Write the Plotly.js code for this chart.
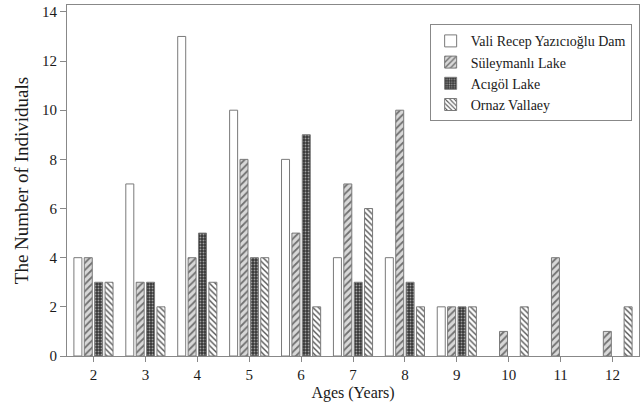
<!DOCTYPE html>
<html>
<head>
<meta charset="utf-8">
<script src="https://cdn.plot.ly/plotly-3.0.1.min.js"></script>
<style>html,body{margin:0;padding:0;background:#fff;}#chart{width:640px;height:407px;}</style>
</head>
<body>
<div id="chart"></div>
<script>
const ages = [2, 3, 4, 5, 6, 7, 8, 9, 10, 11, 12];
const seriesNames = ["Vali Recep Yazıcıoğlu Dam", "Süleymanlı Lake", "Acıgöl Lake", "Ornaz Vallaey"];
// null = no bar drawn (zero individuals)
const valiRecep = [4, 7, 13, 10, 8, 4, 4, 2, null, null, null];
const suleymanli = [4, 3, 4, 8, 5, 7, 10, 2, 1, 4, 1];
const acigol = [3, 3, 5, 4, 9, 3, 3, 2, null, null, null];
const ornaz = [3, 2, 3, 4, 2, 6, 2, 2, 2, null, 2];
const yTicks = [0, 2, 4, 6, 8, 10, 12, 14];

const outline = {color: '#7a7a7a', width: 1};
const traces = [
  {x: ages, y: valiRecep, name: seriesNames[0], type: 'bar',
   marker: {color: '#ffffff', line: outline}},
  {x: ages, y: suleymanli, name: seriesNames[1], type: 'bar',
   marker: {color: '#d0d0d0', line: outline,
     pattern: {shape: '/', fgcolor: '#707070', bgcolor: '#d8d8d8', size: 5, solidity: 0.35}}},
  {x: ages, y: acigol, name: seriesNames[2], type: 'bar',
   marker: {color: '#404040', line: outline,
     pattern: {shape: '.', fgcolor: '#a0a0a0', bgcolor: '#383838', size: 3, solidity: 0.3}}},
  {x: ages, y: ornaz, name: seriesNames[3], type: 'bar',
   marker: {color: '#ffffff', line: outline,
     pattern: {shape: '\\', fgcolor: '#555555', bgcolor: '#ffffff', size: 4, solidity: 0.35}}}
];

const fam = 'Liberation Serif';
const txt = '#1a1a1a';
const layout = {
  width: 640, height: 407,
  margin: {l: 67, r: 1, t: 5, b: 51},
  paper_bgcolor: '#fff', plot_bgcolor: '#fff',
  font: {family: fam, color: txt, size: 15},
  barmode: 'group', bargap: 0.2, bargroupgap: 0.23,
  showlegend: true,
  legend: {x: 0.634, y: 0.945, xanchor: 'left', yanchor: 'top',
    bordercolor: '#888', borderwidth: 1, bgcolor: '#fff',
    font: {family: fam, size: 14, color: txt},
    tracegroupgap: 0, itemwidth: 30},
  xaxis: {
    range: [1.49, 12.51], tickvals: ages, ticktext: ages.map(String),
    showgrid: false, zeroline: false, showline: true, linecolor: '#888', linewidth: 1, mirror: true,
    ticks: 'outside', ticklen: 5, tickcolor: '#888',
    tickfont: {family: fam, size: 15, color: txt},
    title: {text: 'Ages (Years)', font: {family: fam, size: 16, color: txt}, standoff: 4}
  },
  yaxis: {
    range: [0, 14.28], tickvals: yTicks, ticktext: yTicks.map(String),
    showgrid: false, zeroline: false, showline: true, linecolor: '#888', linewidth: 1, mirror: true,
    ticks: 'outside', ticklen: 6, tickcolor: '#888',
    tickfont: {family: fam, size: 15, color: txt},
    title: {text: 'The Number of Individuals', font: {family: fam, size: 19, color: txt}, standoff: 8}
  }
};
Plotly.newPlot('chart', traces, layout, {displayModeBar: false, staticPlot: true});
</script>
</body>
</html>
